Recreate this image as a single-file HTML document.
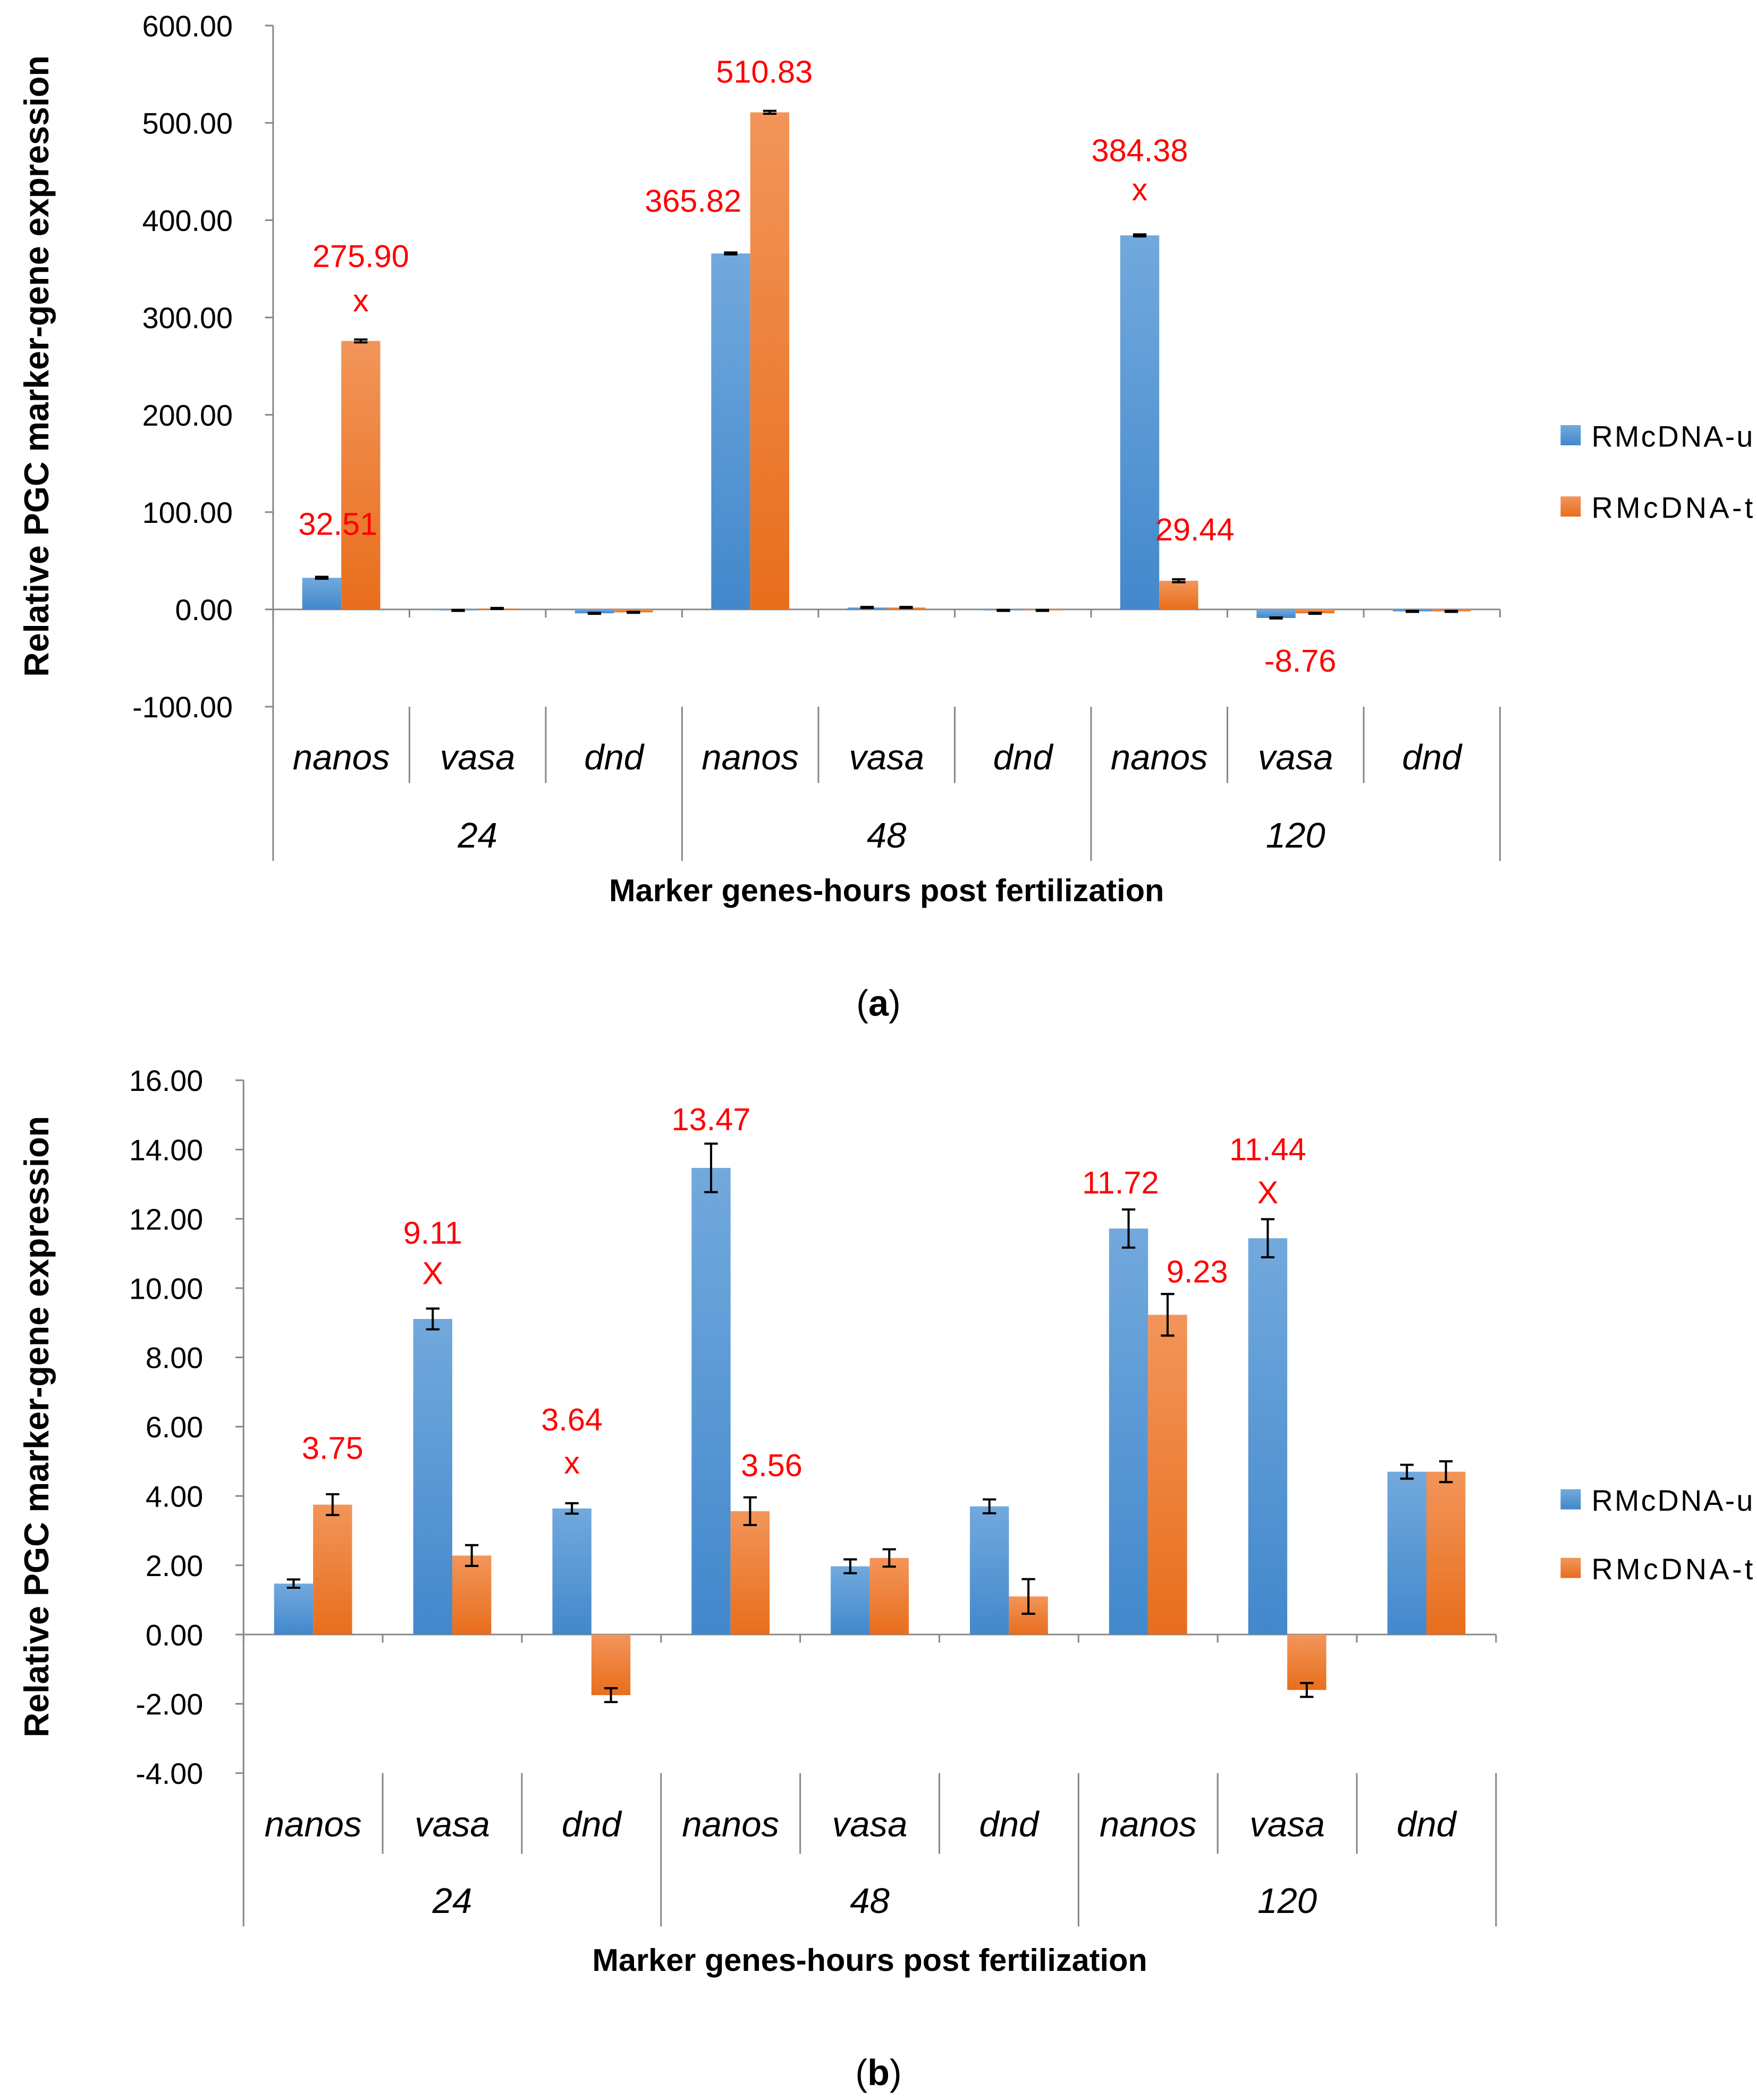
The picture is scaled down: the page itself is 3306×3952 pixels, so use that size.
<!DOCTYPE html>
<html><head><meta charset="utf-8"><style>
html,body{margin:0;padding:0;background:#fff;}
svg{display:block;}
text{font-family:"Liberation Sans",sans-serif;}
</style></head><body>
<svg id="fig" width="3306" height="3952" viewBox="0 0 1306 1561" preserveAspectRatio="none" xmlns="http://www.w3.org/2000/svg">
<defs>
<linearGradient id="gBlue" x1="0" y1="0" x2="0" y2="1"><stop offset="0" stop-color="#72a9dd"/><stop offset="1" stop-color="#4288cc"/></linearGradient>
<linearGradient id="gOrange" x1="0" y1="0" x2="0" y2="1"><stop offset="0" stop-color="#f2955a"/><stop offset="1" stop-color="#e86e1c"/></linearGradient>
</defs>
<g id="chartA"></g>
<g id="chartB"></g>
<text x="653" y="755" font-family="Liberation Serif" font-size="27" text-anchor="middle">(<tspan font-weight="bold">a</tspan>)</text>
<text x="653" y="1550" font-family="Liberation Serif" font-size="27" text-anchor="middle">(<tspan font-weight="bold">b</tspan>)</text>
</svg>
<script>
const genes = ["nanos","vasa","dnd","nanos","vasa","dnd","nanos","vasa","dnd"];
const hours = ["24","48","120"];
const seriesNames = ["RMcDNA-u","RMcDNA-t"];
// Chart A data
const aU = [32.51, -1, -4, 365.82, 2, -1, 384.38, -8.76, -2];
const aT = [275.90, 1, -3, 510.83, 2, -1, 29.44, -4, -2];
const aUerr = [1, 0.5, 0.5, 1, 0.5, 0.5, 1, 0.5, 0.5];
const aTerr = [1.5, 0.5, 0.5, 1.5, 0.5, 0.5, 1.5, 0.5, 0.5];
const aTicks = [600,500,400,300,200,100,0,-100];
const aNotes = [["32.51",0,0,-32,12],["275.90",0,1,-55,0],["x",0,1,-22,0],["365.82",3,0,-31,-28],["510.83",3,1,-22,-4],["384.38",6,0,-55,0],["x",6,0,-26,0],["29.44",6,1,-30,12],["-8.76",7,0,40,18]];
// Chart B data
const bU = [1.47, 9.11, 3.64, 13.47, 1.97, 3.70, 11.72, 11.44, 4.70];
const bT = [3.75, 2.28, -1.75, 3.56, 2.21, 1.10, 9.23, -1.60, 4.70];
const bUerr = [0.12, 0.3, 0.15, 0.7, 0.2, 0.2, 0.55, 0.55, 0.2];
const bTerr = [0.3, 0.3, 0.2, 0.4, 0.25, 0.5, 0.6, 0.2, 0.3];
const bTicks = [16,14,12,10,8,6,4,2,0,-2,-4];
const bNotes = [["3.75",0,1,-34,0],["9.11",1,0,-56,0],["X",1,0,-26,0],["3.64",2,0,-58,0],["x",2,0,-26,0],["13.47",3,0,-28,0],["3.56",3,1,-26,16],["11.72",6,0,-26,-6],["9.23",6,1,-24,22],["11.44",7,0,-58,0],["X",7,0,-26,0]];

const NS="http://www.w3.org/2000/svg";
function mk(parent, tag, attrs, txt){
  const e=document.createElementNS(NS,tag);
  for(const k in attrs) e.setAttribute(k,attrs[k]);
  if(txt!==undefined) e.textContent=txt;
  parent.appendChild(e); return e;
}
function draw(g, cfg){
  const {x0,x1,yTop,yZero,vTop,U,T,Ue,Te,ticks,notes,catY,grpY,innerBot,grpBot,titleY,legY,vBottom} = cfg;
  const ys = v => yZero + (v)*(yZero-yTop)/(0-vTop);
  const cw = (x1-x0)/9;
  const bw = 29;
  let e;
  e=mk(g,"line",{x1:x0,y1:ys(vTop),x2:x0,y2:ys(vBottom),stroke:"#888","stroke-width":1.2});
  
  
  ticks.forEach(t=>{
    const l=mk(g,"line",{x1:x0-6,y1:ys(t),x2:x0,y2:ys(t),stroke:"#888","stroke-width":1.2});
    
    
    const tx=mk(g,"text",{x:x0-30,y:ys(t)+8,"font-size":22,"text-anchor":"end"},t.toFixed(2));
    
    
  });
  e=mk(g,"line",{x1:x0,y1:yZero,x2:x1,y2:yZero,stroke:"#888","stroke-width":1.2});
  
  
  for(let i=0;i<=9;i++){
    const xx=x0+i*cw;
    const bot=(i%3===0)?grpBot:innerBot;
    const l=mk(g,"line",{x1:xx,y1:yZero,x2:xx,y2:yZero+6,stroke:"#888","stroke-width":1.2});
    
    
    const s=mk(g,"line",{x1:xx,y1:ys(vBottom),x2:xx,y2:bot,stroke:"#888","stroke-width":1.2});
    
    
  }
  genes.forEach((gn,i)=>{
    const t=mk(g,"text",{x:x0+(i+0.5)*cw,y:catY,"font-size":26.5,"font-style":"italic","text-anchor":"middle"},gn);
    
    
  });
  hours.forEach((h,i)=>{
    const t=mk(g,"text",{x:x0+(i*3+1.5)*cw,y:grpY,"font-size":26.5,"font-style":"italic","text-anchor":"middle"},h);
    
    
  });
  e=mk(g,"text",{x:(x0+x1)/2,y:titleY,"font-size":23.5,"font-weight":"bold","text-anchor":"middle"},"Marker genes-hours post fertilization");
  
  
  const midY=(ys(vTop)+ys(vBottom))/2;
  e=mk(g,"text",{x:0,y:0,"font-size":25.5,"font-weight":"bold","text-anchor":"middle",transform:`translate(36,${midY}) rotate(-90)`},"Relative PGC marker-gene expression");
  
  
  [[U,Ue,"url(#gBlue)",-1],[T,Te,"url(#gOrange)",0]].forEach(([vals,errs,fill,off],si)=>{
    vals.forEach((v,i)=>{
      const bx=x0+(i+0.5)*cw+off*bw;
      const y=Math.min(ys(v),yZero), h=Math.abs(ys(v)-yZero);
      const r=mk(g,"rect",{x:bx,y:y,width:bw,height:Math.max(h,0.5),fill:fill});
      
      
      const cx=bx+bw/2, ya=ys(v+errs[i]), yb=ys(v-errs[i]);
      const eb=mk(g,"path",{d:`M${cx},${ya}V${yb}M${cx-5},${ya}H${cx+5}M${cx-5},${yb}H${cx+5}`,stroke:"#000","stroke-width":1.6,fill:"none"});
      
      
    });
  });
  notes.forEach(([txt,ci,si,dy,dx])=>{
    const v=(si===0?U:T)[ci];
    const cx=x0+(ci+0.5)*cw+(si===0?-bw/2:bw/2)+dx;
    const t=mk(g,"text",{x:cx,y:ys(v)+dy,"font-size":23.5,fill:"#ff0000","text-anchor":"middle"},txt);
    
    
  });
  ["url(#gBlue)","url(#gOrange)"].forEach((f,i)=>{
    const yy=legY+i*cfg.legGap;
    const r=mk(g,"rect",{x:1160,y:yy-8,width:15,height:15,fill:f});
    
    
    const t=mk(g,"text",{x:1183,y:yy+8,"font-size":22,textLength:120},seriesNames[i]);
    
    
  });
}
draw(document.getElementById('chartA'),{x0:203,x1:1115,yTop:19,yZero:453,vTop:600,vBottom:-100,U:aU,T:aT,Ue:aUerr,Te:aTerr,ticks:aTicks,notes:aNotes,catY:572,grpY:630,innerBot:582,grpBot:640,titleY:670,legY:324,legGap:53});
draw(document.getElementById('chartB'),{x0:181,x1:1112,yTop:803,yZero:1215,vTop:16,vBottom:-4,U:bU,T:bT,Ue:bUerr,Te:bTerr,ticks:bTicks,notes:bNotes,catY:1365,grpY:1422,innerBot:1378,grpBot:1432,titleY:1465,legY:1115,legGap:51});
</script>
</body></html>
